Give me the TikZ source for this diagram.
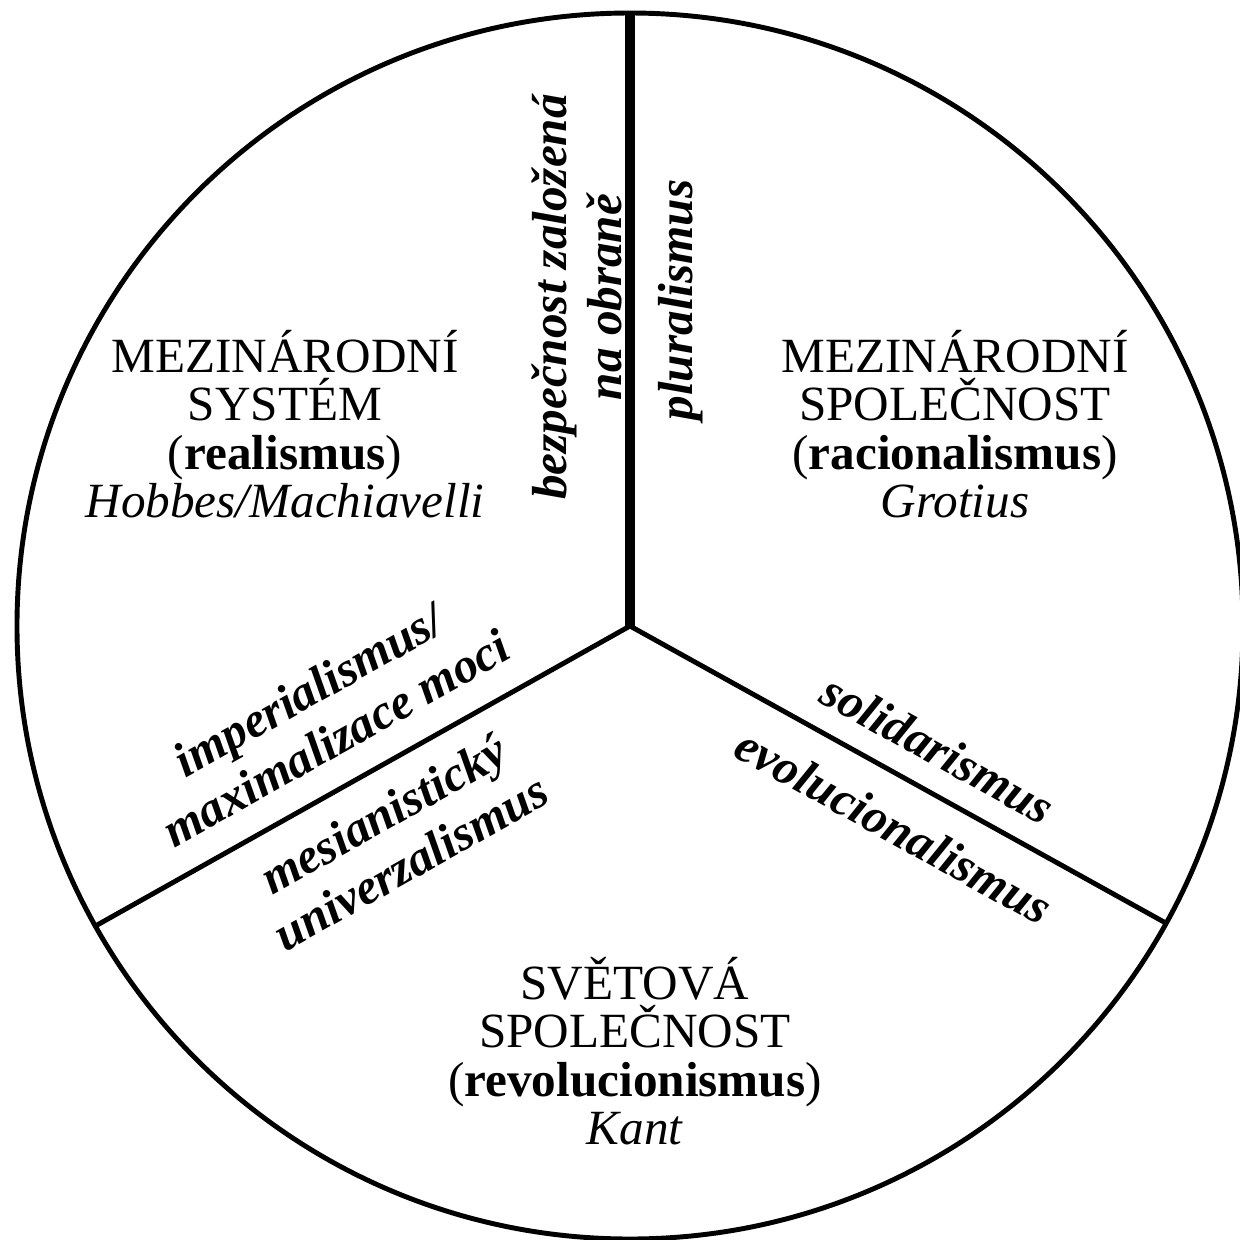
\documentclass[tikz,border=0pt]{standalone}
\usepackage{fontspec}
\setmainfont{Liberation Serif}

\begin{document}
\begin{tikzpicture}[
    sector/.style={align=center, font=\fontsize{14}{13.8}\selectfont},
    side/.style={align=center, font=\fontsize{14}{15.8}\selectfont\bfseries\itshape},
]
    \useasboundingbox (-6.30,-6.14) rectangle (6.10,6.26);

    % Circle
    \coordinate (c) at (0,0);
    \draw[line width=1.4pt] (c) circle (6.13);

    % Dividers
    \coordinate (top) at (90:6.13);
    \coordinate (lowleft) at (209.3:6.13);
    \coordinate (lowright) at (331:6.13);
    \draw[line width=2.8pt] (c) -- (top);
    \draw[line width=1.4pt] (c) -- (lowleft);
    \draw[line width=1.4pt] (c) -- (lowright);

    % Sectors
    \node[sector] (system) at (-3.45, 2.02) {MEZINÁRODNÍ\\SYSTÉM\\(\textbf{realismus})\\\textit{Hobbes/Machiavelli}};
    \node[sector] (society) at (3.25, 2.02) {MEZINÁRODNÍ\\SPOLEČNOST\\(\textbf{racionalismus})\\\textit{Grotius}};
    \node[sector] (world) at (0.05, -4.25) {SVĚTOVÁ\\SPOLEČNOST\\(\textbf{revolucionismus})\\\textit{Kant}};

    % Along the dividers
    \node[side, rotate=90] (defence) at (-0.53, 3.29) {bezpečnost založená\\na obraně};
    \node[side, rotate=90] (plural) at (0.51, 3.26) {pluralismus};
    \node[side, rotate=29.5] (imperial) at (-3.08, -0.88) {imperialismus/\\maximalizace moci};
    \node[side, rotate=29.5] (messiah) at (-2.33, -2.12) {mesianistický\\univerzalismus};
    \node[side, rotate=-29] (solid) at (3.08, -1.23) {solidarismus};
    \node[side, rotate=-29] (evol) at (2.64, -2.00) {evolucionalismus};
\end{tikzpicture}
\end{document}
